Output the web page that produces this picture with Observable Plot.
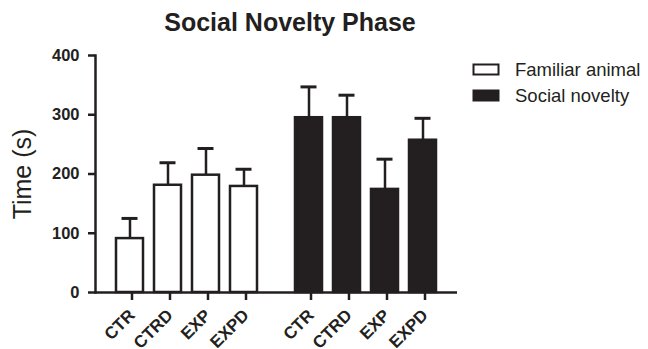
<!DOCTYPE html>
<html>
<head>
<meta charset="utf-8">
<script src="https://cdn.jsdelivr.net/npm/d3@7"></script>
<script src="https://cdn.jsdelivr.net/npm/@observablehq/plot@0.6"></script>
<style>
  html, body { margin: 0; padding: 0; background: #fff; }
  #chart { position: relative; width: 648px; height: 349px; }
  #chart svg { position: absolute; left: 0; top: 0; }
</style>
</head>
<body>
<div id="chart"></div>
<script>
// ---- data ----
const title = "Social Novelty Phase";
const yLabel = "Time (s)";
const groups = ["Familiar animal", "Social novelty"];
const conditions = ["CTR", "CTRD", "EXP", "EXPD"];
const familiarMean = [91, 181, 198, 179];
const familiarSem  = [34, 38, 45, 29];
const novelMean    = [295, 295, 174, 257];
const novelSem     = [52, 38, 51, 37];
const yTicks = [0, 100, 200, 300, 400];

const ink = "#231f20";
const means = [familiarMean, novelMean];
const sems = [familiarSem, novelSem];
const data = groups.flatMap((g, gi) => conditions.map((c, ci) => ({
  group: g, condition: c, mean: means[gi][ci], top: means[gi][ci] + sems[gi][ci]
})));

const common = {
  width: 648, height: 349,
  marginLeft: 95, marginRight: 191, marginTop: 55, marginBottom: 57,
  style: { fontFamily: "'Liberation Sans', Arial, sans-serif", color: ink, overflow: "visible", background: "transparent" },
  y: { domain: [0, 400], axis: null, label: null }
};

// bars, error bars and the x axis, one facet per group
const bars = Plot.plot({
  ...common,
  fx: { domain: groups, paddingInner: 0.143, paddingOuter: 0.081, axis: null, label: null },
  x: { domain: conditions, paddingInner: 0.3, paddingOuter: 0.15, axis: null, label: null },
  color: { domain: groups, range: ["#ffffff", ink] },
  marks: [
    Plot.barY(data, { fx: "group", x: "condition", y: "mean", fill: "group", stroke: ink, strokeWidth: 2.5 }),
    Plot.ruleX(data, { fx: "group", x: "condition", y1: "mean", y2: "top", stroke: ink, strokeWidth: 2.5 }),
    Plot.tickY(data, { fx: "group", x: "condition", y: "top", stroke: ink, strokeWidth: 3, insetLeft: 5.5, insetRight: 5.5 }),
    Plot.axisX({ tickRotate: -45, tickSize: 8, tickPadding: 12, dx: 2, fontSize: 17, fontWeight: "bold", stroke: ink, strokeWidth: 2.5, fill: ink, label: null })
  ]
});

// y axis and baseline spanning the whole frame
const axes = Plot.plot({
  ...common,
  marks: [
    Plot.ruleY([0], { stroke: ink, strokeWidth: 2.5 }),
    Plot.frame({ anchor: "left", stroke: ink, strokeWidth: 2.5 }),
    Plot.axisY({ ticks: yTicks, tickSize: 7, tickPadding: 9, fontSize: 16.5, fontWeight: "bold", stroke: ink, strokeWidth: 2.5, fill: ink, label: null })
  ]
});

const s = d3.select(axes);
s.append("text").attr("x", 290).attr("y", 31).attr("text-anchor", "middle")
  .attr("font-size", 25).attr("font-weight", "bold").attr("fill", ink).text(title);
s.append("text").attr("transform", "translate(31,174) rotate(-90)").attr("text-anchor", "middle")
  .attr("font-size", 25).attr("fill", ink).text(yLabel);
const legendY = [64.5, 90.5];
groups.forEach((g, i) => {
  s.append("rect").attr("x", 473.5).attr("y", legendY[i]).attr("width", 25).attr("height", 10)
    .attr("fill", i === 0 ? "#fff" : ink).attr("stroke", ink).attr("stroke-width", 2);
  s.append("text").attr("x", 515).attr("y", legendY[i] + 11.3).attr("font-size", 18.5)
    .attr("text-anchor", "start").attr("fill", ink).text(g);
});
const chart = document.getElementById("chart");
chart.appendChild(bars);
chart.appendChild(axes);
</script>
</body>
</html>
